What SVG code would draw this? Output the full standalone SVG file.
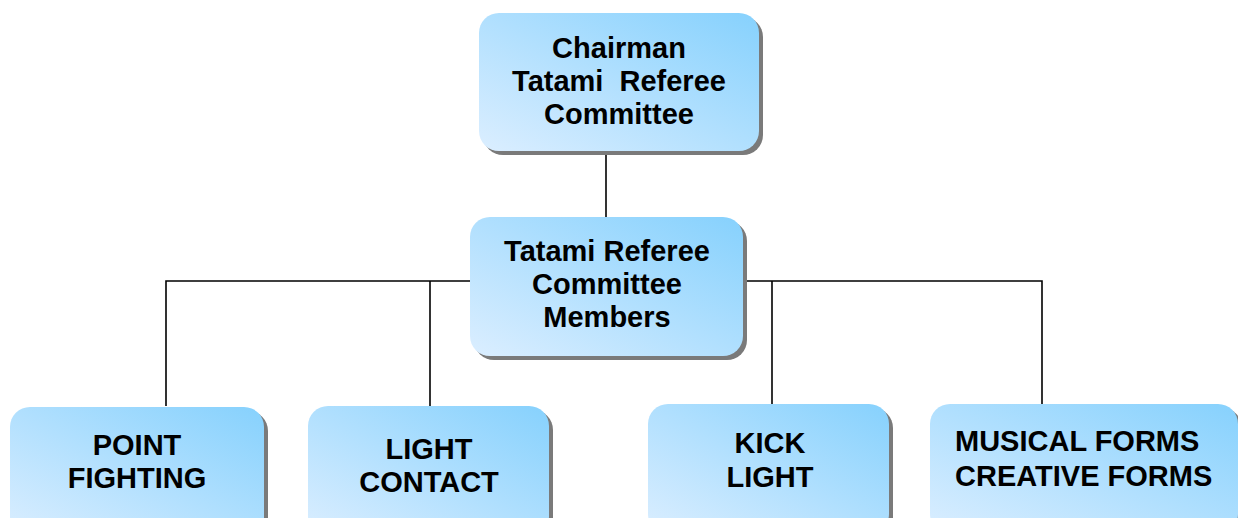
<svg xmlns="http://www.w3.org/2000/svg" width="1238" height="518" viewBox="0 0 1238 518">
<defs>
<linearGradient id="g" x1="0" y1="1" x2="1" y2="0">
<stop offset="0" stop-color="#dbeeff"/>
<stop offset="1" stop-color="#86d1fd"/>
</linearGradient>
</defs>
<style>
.box{fill:url(#g)}
.sh{fill:#7a7a7a}
.t{font-family:"Liberation Sans",Arial,sans-serif;font-weight:bold;font-size:29px;fill:#000;text-anchor:middle}
.c{stroke:#000;stroke-width:1.6;fill:none}
</style>
<rect width="1238" height="518" fill="#fff"/>
<g id="connectors">
<line class="c" x1="606" y1="152" x2="606" y2="217"/>
<polyline class="c" points="166,406 166,281 470,281"/>
<line class="c" x1="430" y1="281" x2="430" y2="408"/>
<polyline class="c" points="745,281 1042,281 1042,406"/>
<line class="c" x1="772" y1="281" x2="772" y2="408"/>
</g>
<g id="chairman">
<rect class="sh" x="483" y="17" width="280" height="138" rx="20"/>
<rect class="box" x="479" y="13" width="280" height="138" rx="20"/>
<text class="t" x="619" y="58">Chairman</text>
<text class="t" x="619" y="91" xml:space="preserve">Tatami  Referee</text>
<text class="t" x="619" y="124">Committee</text>
</g>
<g id="members">
<rect class="sh" x="474" y="221" width="273" height="139" rx="20"/>
<rect class="box" x="470" y="217" width="273" height="139" rx="20"/>
<text class="t" x="607" y="261">Tatami Referee</text>
<text class="t" x="607" y="294">Committee</text>
<text class="t" x="607" y="327">Members</text>
</g>
<g id="point-fighting">
<rect class="sh" x="14" y="411" width="254" height="130" rx="20"/>
<rect class="box" x="10" y="407" width="254" height="130" rx="20"/>
<text class="t" x="137" y="455">POINT</text>
<text class="t" x="137" y="488">FIGHTING</text>
</g>
<g id="light-contact">
<rect class="sh" x="312" y="410" width="241" height="130" rx="20"/>
<rect class="box" x="308" y="406" width="241" height="130" rx="20"/>
<text class="t" x="429" y="459">LIGHT</text>
<text class="t" x="429" y="492">CONTACT</text>
</g>
<g id="kick-light">
<rect class="sh" x="652" y="408" width="241" height="130" rx="20"/>
<rect class="box" x="648" y="404" width="241" height="130" rx="20"/>
<text class="t" x="770" y="453">KICK</text>
<text class="t" x="770" y="487">LIGHT</text>
</g>
<g id="forms">
<rect class="sh" x="934" y="408" width="308" height="130" rx="20"/>
<rect class="box" x="930" y="404" width="308" height="130" rx="20"/>
<text class="t" x="955" y="451" style="text-anchor:start">MUSICAL FORMS</text>
<text class="t" x="955" y="486" style="text-anchor:start">CREATIVE FORMS</text>
</g>
</svg>
